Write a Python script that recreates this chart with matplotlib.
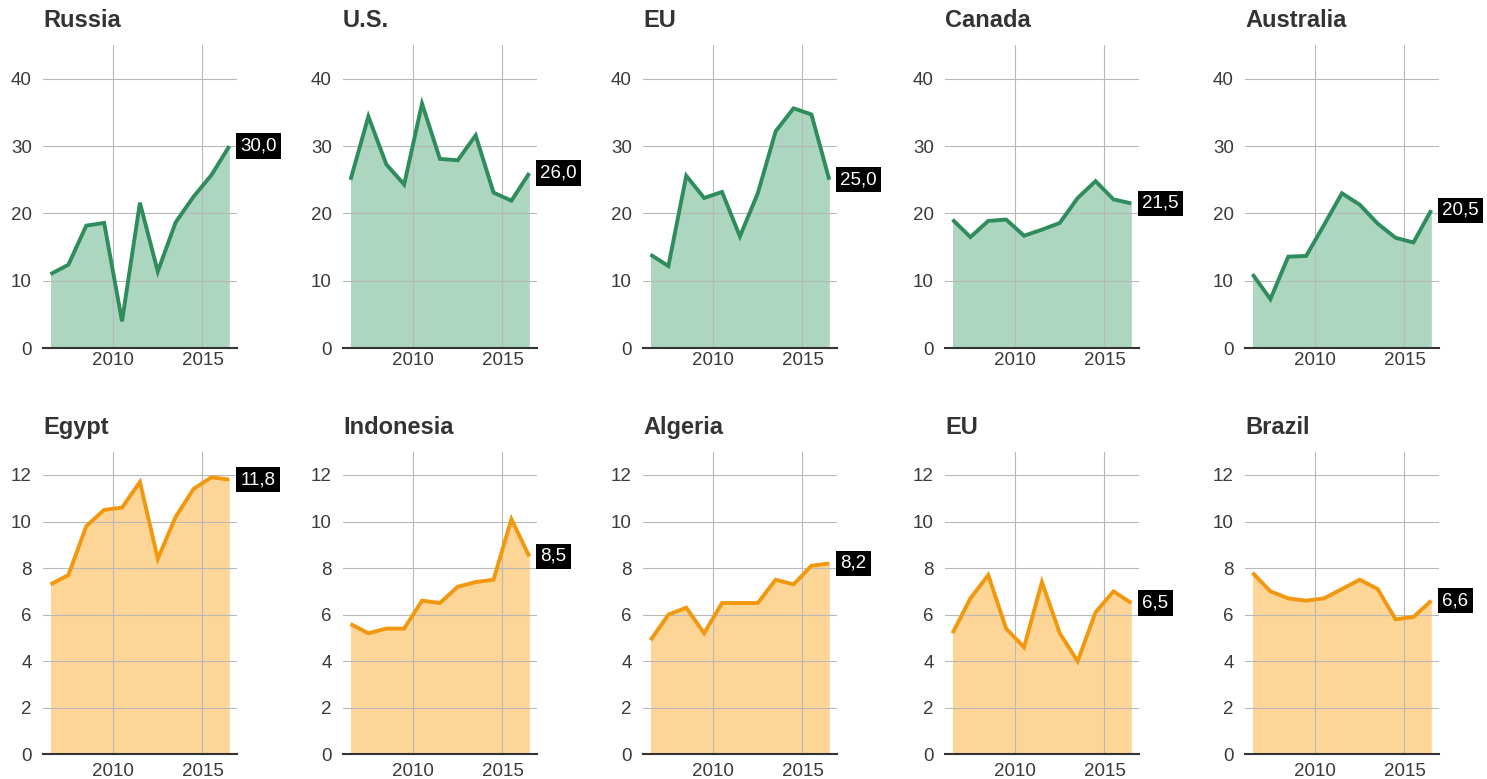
import numpy as np
import matplotlib
matplotlib.use("Agg")
import matplotlib.pyplot as plt

plt.rcParams['font.family'] = ['Liberation Sans', 'DejaVu Sans']

years = np.arange(2006, 2017)  # marketing years, plotted at mid-year

top_titles = ["Russia", "U.S.", "EU", "Canada", "Australia"]
russia = [11.0, 12.4, 18.2, 18.6, 4.0, 21.6, 11.4, 18.7, 22.5, 25.7, 30.0]
us = [25.0, 34.4, 27.3, 24.3, 36.3, 28.1, 27.9, 31.6, 23.1, 21.9, 26.0]
eu_top = [13.9, 12.2, 25.6, 22.3, 23.2, 16.6, 23.0, 32.2, 35.6, 34.7, 25.0]
canada = [19.1, 16.5, 18.9, 19.1, 16.7, 17.6, 18.6, 22.3, 24.8, 22.1, 21.5]
australia = [11.0, 7.3, 13.6, 13.7, 18.3, 23.0, 21.3, 18.5, 16.4, 15.7, 20.5]
top_values = [russia, us, eu_top, canada, australia]

bottom_titles = ["Egypt", "Indonesia", "Algeria", "EU", "Brazil"]
egypt = [7.3, 7.7, 9.8, 10.5, 10.6, 11.7, 8.4, 10.2, 11.4, 11.9, 11.8]
indonesia = [5.6, 5.2, 5.4, 5.4, 6.6, 6.5, 7.2, 7.4, 7.5, 10.1, 8.5]
algeria = [4.9, 6.0, 6.3, 5.2, 6.5, 6.5, 6.5, 7.5, 7.3, 8.1, 8.2]
eu_bottom = [5.2, 6.7, 7.7, 5.4, 4.6, 7.4, 5.2, 4.0, 6.1, 7.0, 6.5]
brazil = [7.8, 7.0, 6.7, 6.6, 6.7, 7.1, 7.5, 7.1, 5.8, 5.9, 6.6]
bottom_values = [egypt, indonesia, algeria, eu_bottom, brazil]

top_yticks = [0, 10, 20, 30, 40]
bottom_yticks = [0, 2, 4, 6, 8, 10, 12]
xticks = [2010, 2015]

GREEN_LINE = "#2f8c5c"
GREEN_FILL = "#acd6bf"
ORANGE_LINE = "#f2980e"
ORANGE_FILL = "#fdd597"

W, H = 1487, 779
fig = plt.figure(figsize=(W / 100, H / 100), dpi=100)
fig.patch.set_facecolor("white")

col_lefts = [43, 343, 643, 945, 1245]
ax_w = 194
rows = [
    dict(top=45, bottom=348.3, titles=top_titles, values=top_values,
         yticks=top_yticks, ylim=(0, 45), line=GREEN_LINE, fill=GREEN_FILL, xpad=3),
    dict(top=451.7, bottom=754.3, titles=bottom_titles, values=bottom_values,
         yticks=bottom_yticks, ylim=(0, 13), line=ORANGE_LINE, fill=ORANGE_FILL, xpad=6),
]

x = years + 0.5

for row in rows:
    for left, title, vals in zip(col_lefts, row["titles"], row["values"]):
        ax = fig.add_axes([left / W, 1 - row["bottom"] / H, ax_w / W,
                           (row["bottom"] - row["top"]) / H])
        ax.set_facecolor("none")
        ax.fill_between(x, 0, vals, color=row["fill"], lw=0, zorder=1)
        ax.plot(x, vals, color=row["line"], lw=2.8, zorder=3,
                solid_joinstyle="miter", solid_capstyle="butt")
        ax.set_xlim(2006.08, 2016.93)
        ax.set_ylim(*row["ylim"])
        ax.set_yticks(row["yticks"])
        ax.set_xticks(xticks)
        ax.set_axisbelow("line")
        ax.grid(True, color="#b8b8b8", lw=0.8)
        for s in ["top", "right", "left"]:
            ax.spines[s].set_visible(False)
        ax.spines["bottom"].set_color("#333333")
        ax.spines["bottom"].set_linewidth(1.5)
        ax.spines["bottom"].set_zorder(4)
        ax.tick_params(axis="both", length=0, labelsize=13.5, labelcolor="#3a3a3a")
        ax.tick_params(axis="y", pad=8)
        ax.tick_params(axis="x", pad=row["xpad"])
        ax.set_title(title, loc="left", fontsize=17, fontweight="bold",
                     color="#333333", pad=13)
        last = vals[-1]
        ax.annotate(f"{last:.1f}".replace(".", ","), xy=(x[-1], last),
                    xytext=(8, 0), textcoords="offset points",
                    ha="left", va="center", fontsize=13.5, color="white",
                    bbox=dict(boxstyle="square,pad=0.22", fc="black", ec="none"),
                    annotation_clip=False, zorder=5)

fig.savefig("out.png", dpi=100, facecolor="white")
